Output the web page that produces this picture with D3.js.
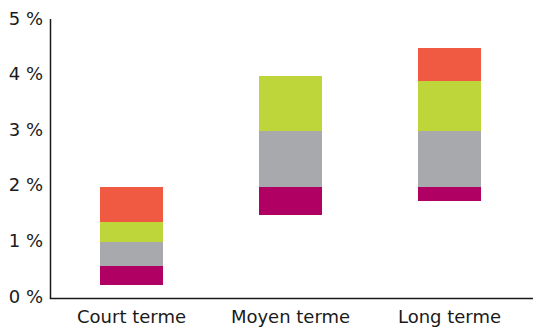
<!DOCTYPE html>
<html>
<head>
<meta charset="utf-8">
<script src="https://cdn.jsdelivr.net/npm/d3@7"></script>
<style>
  html, body { margin: 0; padding: 0; background: #fff; }
  svg { display: block; }
  text { font-family: "DejaVu Sans", "Liberation Sans", sans-serif; fill: #1a1a1a; }
</style>
</head>
<body>
<svg id="chart" width="533" height="328"></svg>
<script>
// Horizon categories
const categories = ["Court terme", "Moyen terme", "Long terme"];
// Lower end of each floating bar (%)
const baseValues = [0.23, 1.5, 1.75];
// Segment thicknesses, bottom to top (%)
const magentaValues = [0.34, 0.5, 0.25];
const grayValues = [0.43, 1.0, 1.0];
const greenValues = [0.37, 1.0, 0.9];
const orangeValues = [0.63, 0.0, 0.6];
// Y-axis ticks
const yTicks = [0, 1, 2, 3, 4, 5];

const segmentSeries = [
  { key: "magenta", color: "#b10064", values: magentaValues },
  { key: "gray", color: "#a8a9ad", values: grayValues },
  { key: "green", color: "#bed63a", values: greenValues },
  { key: "orange", color: "#f15a42", values: orangeValues }
];

const svg = d3.select("#chart");
const W = 533;
const axisX = 50.5, axisY = 298.5;

const x = d3.scaleBand()
  .domain(categories)
  .range([52, 529])
  .paddingInner(0.604)
  .paddingOuter(0.302);

const y = d3.scaleLinear().domain([0, 5]).range([298, 20]);

// Build stacked ranges starting from each bar's base
const rects = [];
categories.forEach((c, i) => {
  let lo = baseValues[i];
  segmentSeries.forEach(s => {
    const hi = lo + s.values[i];
    if (s.values[i] > 0) rects.push({ cat: c, y0: lo, y1: hi, color: s.color });
    lo = hi;
  });
});

svg.append("g").selectAll("rect")
  .data(rects)
  .join("rect")
  .attr("x", d => x(d.cat))
  .attr("width", x.bandwidth())
  .attr("y", d => y(d.y1))
  .attr("height", d => y(d.y0) - y(d.y1))
  .attr("fill", d => d.color)
  .attr("shape-rendering", "crispEdges");

// Y axis: line and labels
svg.append("line")
  .attr("x1", axisX).attr("x2", axisX)
  .attr("y1", 19).attr("y2", axisY)
  .attr("stroke", "#1a1a1a").attr("stroke-width", 1.5);

svg.append("g").selectAll("text")
  .data(yTicks)
  .join("text")
  .attr("x", 43)
  .attr("y", d => y(d) - 2)
  .attr("text-anchor", "end")
  .attr("dominant-baseline", "central")
  .attr("font-size", 18)
  .text(d => d + " %");

// X axis: baseline and category labels
svg.append("line")
  .attr("x1", axisX - 0.75).attr("x2", W)
  .attr("y1", axisY).attr("y2", axisY)
  .attr("stroke", "#1a1a1a").attr("stroke-width", 1.5);

svg.append("g").selectAll("text")
  .data(categories)
  .join("text")
  .attr("x", d => x(d) + x.bandwidth() / 2)
  .attr("y", 323)
  .attr("text-anchor", "middle")
  .attr("font-size", 18)
  .text(d => d);
</script>
</body>
</html>
